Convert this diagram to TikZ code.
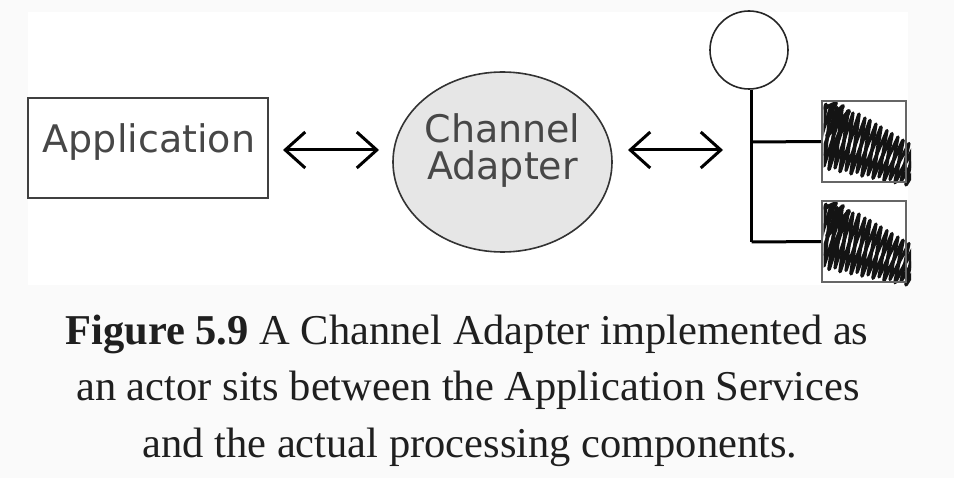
\documentclass[tikz,border=0pt]{standalone}
\usepackage{fontspec}
\setmainfont{Liberation Serif}
\newfontfamily\handfont{DejaVu Sans}
\usetikzlibrary{arrows.meta,shapes.geometric}
\definecolor{pagebg}{HTML}{FAFAFA}
\definecolor{adapterfill}{HTML}{E6E6E6}
\tikzset{
  lbl/.style={font=\handfont\fontsize{38}{38}\selectfont, text=black!72, inner sep=0pt, anchor=base},
  appbox/.style={draw=black!75, line width=2pt, minimum width=240pt, minimum height=100pt, inner sep=0pt},
  adapter/.style={ellipse, draw=black!80, line width=1.6pt, fill=adapterfill, minimum width=219pt, minimum height=180pt, inner sep=0pt},
  actorhead/.style={circle, draw=black!85, line width=1.6pt, minimum size=78pt, inner sep=0pt},
  compbox/.style={draw=black!60, line width=1.5pt, minimum width=84pt, minimum height=81pt, inner sep=0pt},
  bidir/.style={line width=3pt, {Straight Barb[length=20pt,width=36pt,line width=3pt]}-{Straight Barb[length=20pt,width=36pt,line width=3pt]}},
  wire/.style={line width=3pt, black},
  scrib/.style={line width=3.6pt, black!92, line join=round, line cap=round},
  captext/.style={font=\fontsize{42.5}{42.5}\selectfont, text=black!88, inner sep=0pt, anchor=base},
}
\begin{document}
\begin{tikzpicture}[x=1pt,y=-1pt]
\fill[pagebg] (0,0) rectangle (954,478);
\fill[white] (28,12) rectangle (908,285);
\useasboundingbox (0,0) rectangle (954,478);

% Application box
\node[appbox] (app) at (148,148) {};
\node[lbl] (apptext) at (149,153) {Application};

% Channel adapter
\node[adapter] (ca) at (502.5,162) {};
\node[lbl] (ca1) at (502.5,143) {Channel};
\node[lbl] (ca2) at (502.5,180) {Adapter};

% arrows
\coordinate (a1) at (283,150);
\coordinate (a2) at (379,150);
\coordinate (b1) at (628,150);
\coordinate (b2) at (723,150);
\draw[bidir] (a1) -- (a2);
\draw[bidir] (b1) -- (b2);

% actor
\node[actorhead] (head) at (749,50) {};
\coordinate (j1) at (751.5,142);
\coordinate (j2) at (751.5,242);
\node[compbox] (c1) at (864,141.5) {};
\node[compbox] (c2) at (864,241.5) {};
\draw[wire] (head.south -| j1) -- (j2);
\draw[wire] (j1) -- (c1.west);
\draw[wire] (j2) -- (c2.west);

% scribbles
\foreach \dy in {0, 100}{
  \begin{scope}[shift={(0,\dy)}]
  \clip (823.5,102) rectangle (911,187);
  \draw[scrib] (807,165) -- (826,104.3) -- (818,167.2) -- (837,107.6)
    -- (829,169.4) -- (848,110.9) -- (840,171.6) -- (859,114.2)
    -- (851,173.8) -- (870,120.5) -- (862,176) -- (881,127.1)
    -- (873,178.2) -- (892,133.7) -- (884,180.4) -- (903,140.3)
    -- (895,182.6) -- (914,146.9) -- (906,184.8) -- (925,153.5);
  \draw[scrib, line width=3.2pt] (813,163) -- (831,106) -- (824,166) -- (842,110)
    -- (835,168) -- (853,113) -- (846,170.5) -- (865,118)
    -- (857,172.5) -- (876,124) -- (868,175) -- (887,130.5)
    -- (879,177) -- (898,137) -- (890,179.5) -- (909,143.5)
    -- (901,181.5) -- (920,150);
  \draw[scrib, line width=4pt] (825,108) -- (836,103) -- (826,122) -- (843,106) -- (827,136)
    -- (849,111) -- (832,150);
  \end{scope}
}
\node[compbox] (c1b) at (864,141.5) {};
\node[compbox] (c2b) at (864,241.5) {};

% caption
\node[captext] (l1) at (467,345) {\textbf{Figure 5.9} A Channel Adapter implemented as};
\node[captext] (l2) at (468,401) {an actor sits between the Application Services};
\node[captext] (l3) at (470,457) {and the actual processing components.};
\end{tikzpicture}
\end{document}
